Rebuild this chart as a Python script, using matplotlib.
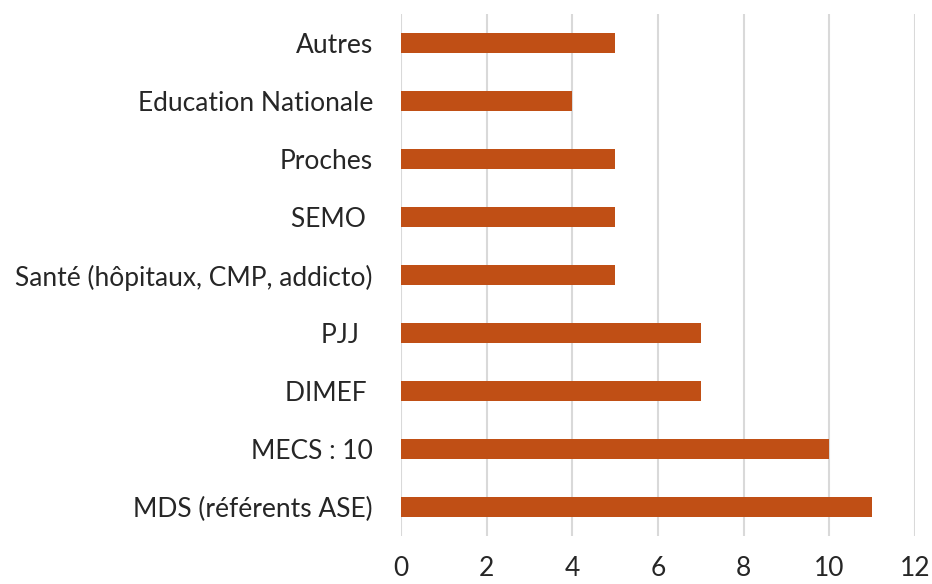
import matplotlib.pyplot as plt

# Categories (bottom to top) and counts
categories = ["MDS (référents ASE)", "MECS : 10", "DIMEF ", "PJJ  ",
              "Santé (hôpitaux, CMP, addicto)", "SEMO ", "Proches",
              "Education Nationale", "Autres"]
values = [11, 10, 7, 7, 5, 5, 5, 4, 5]

ticks = [0, 2, 4, 6, 8, 10, 12]

plt.rcParams['font.family'] = ['Lato', 'DejaVu Sans']

fig = plt.figure(figsize=(9.32, 5.84), dpi=100)
ax = fig.add_axes([0.430, 0.082, 0.552, 0.894])

ax.barh(range(len(categories)), values, height=0.35, color='#C04F15', zorder=3)

ax.set_xlim(0, 12)
ax.set_ylim(-0.5, len(categories) - 0.5)
ax.set_xticks(ticks)
ax.set_yticks(range(len(categories)))
ax.set_yticklabels(categories, fontsize=19, color='#262626')
ax.tick_params(axis='x', labelsize=19, colors='#262626', length=0, pad=14)
ax.tick_params(axis='y', length=0, pad=20)

ax.grid(axis='x', color='#d9d9d9', linewidth=1.5, zorder=0)
for s in ax.spines.values():
    s.set_visible(False)

fig.savefig("out.png", dpi=100)
